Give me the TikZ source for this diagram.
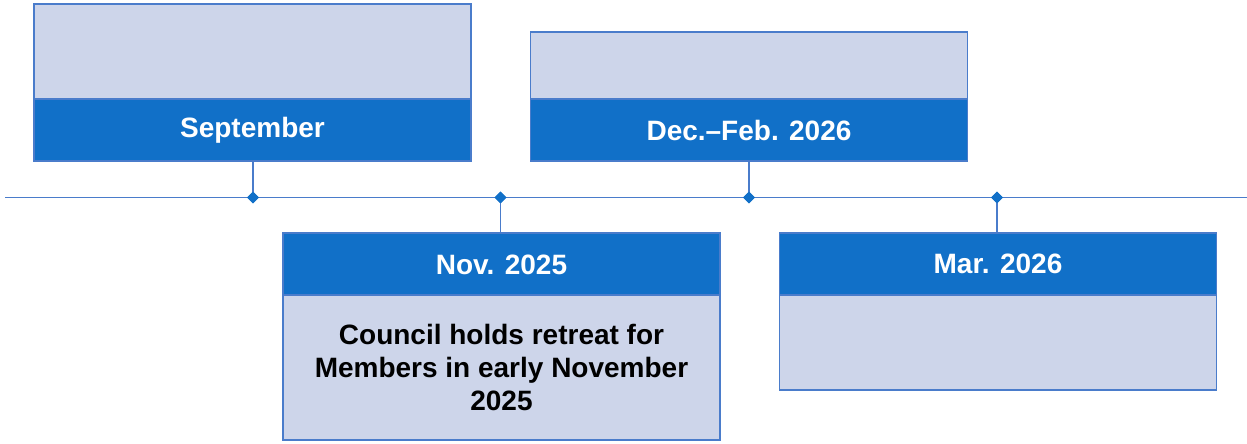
\documentclass[tikz,border=0pt]{standalone}
\usepackage{fontspec}
\setmainfont{Liberation Sans}
\usetikzlibrary{shapes.geometric}
\definecolor{hdblue}{HTML}{1170C8}
\definecolor{lightbg}{HTML}{CDD5EA}
\definecolor{edge}{HTML}{4A7CCB}
\begin{document}
\begin{tikzpicture}[x=1pt,y=-1pt,
  bodybox/.style={draw=edge,line width=1.5pt,fill=lightbg,minimum width=437pt,inner sep=0pt,align=center,font=\fontsize{28}{33}\selectfont\bfseries,text=black},
  headbox/.style={draw=edge,line width=1.5pt,fill=hdblue,minimum width=437pt,minimum height=62pt,inner sep=0pt,font=\fontsize{28}{32}\selectfont\bfseries,text=white},
  dia/.style={diamond,fill=hdblue,draw=none,minimum size=12pt,inner sep=0pt},
  conn/.style={draw=edge,line width=1.8pt}]
\useasboundingbox (0,0) rectangle (1247,444);
% timeline
\coordinate (tl) at (5,197.5);
\coordinate (tr) at (1247,197.5);
\draw[conn] (tl) -- (tr);
% box 1
\node[bodybox,minimum height=95pt] (b1) at (252.5,51.5) {};
\node[headbox] (h1) at (252.5,130) {September};
% box 3
\node[bodybox,minimum height=67pt] (b3) at (749,65.5) {};
\node[headbox] (h3) at (749,130) {Dec.–Feb. 2026};
% box 2
\node[headbox,minimum height=63pt] (h2) at (501.5,264.5) {Nov. 2025};
\node[bodybox,minimum height=145pt] (b2) at (501.5,367.5) {Council holds retreat for\\Members in early November\\2025};
% box 4
\node[headbox] (h4) at (998,264) {Mar. 2026};
\node[bodybox,minimum height=95pt] (b4) at (998,342.5) {};
% diamonds
\node[dia] (d1) at (253,197.5) {};
\node[dia] (d2) at (500.5,197.5) {};
\node[dia] (d3) at (749,197.5) {};
\node[dia] (d4) at (997,197.5) {};
% connectors
\draw[conn] (h1.south -| d1) -- (d1.center);
\draw[conn] (h3.south -| d3) -- (d3.center);
\draw[conn] (d2.center) -- (h2.north -| d2);
\draw[conn] (d4.center) -- (h4.north -| d4);
\node[dia] at (d1) {};
\node[dia] at (d2) {};
\node[dia] at (d3) {};
\node[dia] at (d4) {};
\end{tikzpicture}
\end{document}
